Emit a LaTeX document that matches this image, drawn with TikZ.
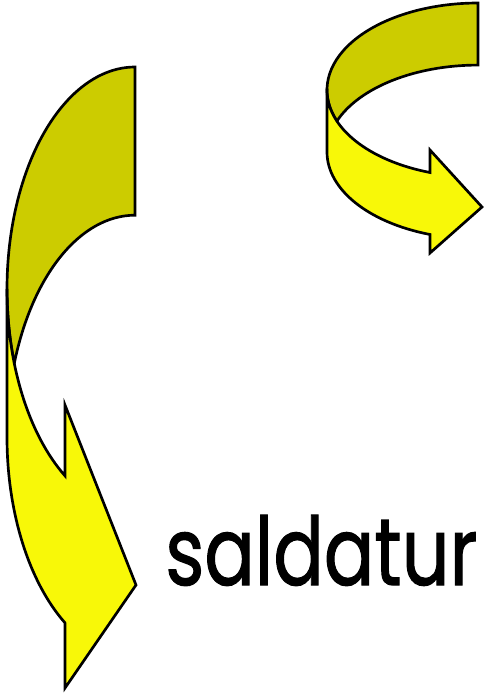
\documentclass[tikz,border=0pt]{standalone}
\usepackage{fontspec}
\setmainfont{Poppins}[FakeBold=1.3]
\definecolor{ArOlive}{HTML}{CCCC00}
\definecolor{ArYellow}{HTML}{F8F808}

\begin{document}
\begin{tikzpicture}[x=0.025cm,y=-0.025cm,line width=1.9pt,line join=miter]
\path[use as bounding box] (0,0) rectangle (483,693);
% left arrow: back band, then front band with head
\filldraw[fill=ArOlive] (135,67) arc[start angle=270,end angle=160.5,x radius=128,y radius=222]
  arc[start angle=199.5,end angle=270,x radius=128,y radius=222] -- cycle;
\filldraw[fill=ArYellow] (7,289) -- (7,437) arc[start angle=180,end angle=123.2,x radius=128,y radius=222]
  -- (65,688) -- (136,585) -- (65,405) -- (65,475.8)
  arc[start angle=123.2,end angle=180,x radius=128,y radius=222] -- cycle;
% right arrow
\filldraw[fill=ArOlive] (478,3) arc[start angle=270,end angle=159.1,x radius=151,y radius=87]
  arc[start angle=200.9,end angle=270,x radius=151,y radius=87] -- cycle;
\filldraw[fill=ArYellow] (327,90) -- (327,152) arc[start angle=180,end angle=108.5,x radius=151,y radius=87]
  -- (430,253) -- (482,207) -- (430,150) -- (430,172.5)
  arc[start angle=108.5,end angle=180,x radius=151,y radius=87] -- cycle;
\node[anchor=base west,inner sep=0pt] (weld) at (164,585) {\resizebox{7.8cm}{1.75cm}{\fontsize{66}{70}\selectfont saldatur}};
\end{tikzpicture}
\end{document}
